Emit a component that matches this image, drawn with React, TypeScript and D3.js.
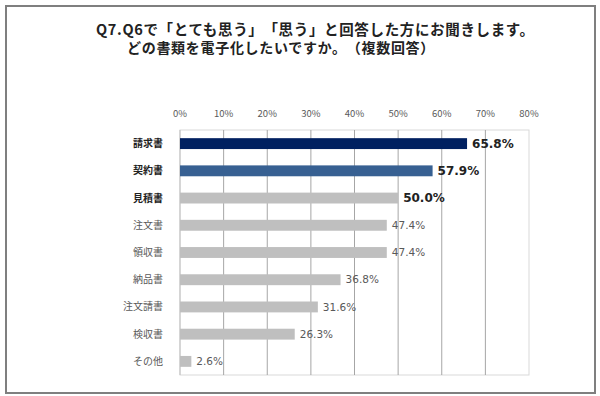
import React from "react";
import * as d3 from "d3";

const categories = ["請求書", "契約書", "見積書", "注文書", "領収書", "納品書", "注文請書", "検収書", "その他"];
const values = [65.8, 57.9, 50.0, 47.4, 47.4, 36.8, 31.6, 26.3, 2.6];
const barColors = ["#002060", "#376092", "#BFBFBF", "#BFBFBF", "#BFBFBF", "#BFBFBF", "#BFBFBF", "#BFBFBF", "#BFBFBF"];
const emphasized = [true, true, true, false, false, false, false, false, false];
const tickValues = [0, 10, 20, 30, 40, 50, 60, 70, 80];
const titleLines = ["Q7.Q6で「とても思う」「思う」と回答した方にお聞きします。", "どの書類を電子化したいですか。（複数回答）"];

const W = 600;
const H = 396;
const FONT = "'Noto Sans CJK JP', 'Noto Sans', sans-serif";

export default function App() {
  const left = 180;
  const right = 529;
  const top = 130;
  const bottom = 375;
  const x = d3.scaleLinear().domain([0, 80]).range([left, right]);
  const y = d3.scaleBand<string>().domain(categories).range([top, bottom]).paddingInner(0.6).paddingOuter(0.3);
  const titleStyle: any = { textSpacingTrim: "space-all" };

  return (
    <svg width={W} height={H} style={{ position: "absolute", left: 0, top: 0, background: "#fff" }} fontFamily={FONT}>
      <rect x={6} y={6} width={589} height={387} fill="#fff" stroke="#7f7f7f" strokeWidth={2} />
      <text x={96} y={35} fontSize={14.5} fontWeight="bold" fill="#222" letterSpacing={0.65} style={titleStyle}>{titleLines[0]}</text>
      <text x={127} y={53} fontSize={14} fontWeight="bold" fill="#222" letterSpacing={0.7} style={titleStyle}>{titleLines[1]}</text>

      <rect x={left} y={top} width={right - left} height={bottom - top} fill="none" stroke="#d9d9d9" strokeWidth={1} />
      {tickValues.map((t) => (
        <g key={t}>
          {t > 0 && t < 80 && (
            <line x1={x(t)} x2={x(t)} y1={top} y2={bottom} stroke="#a6a6a6" strokeWidth={1} />
          )}
          <text x={x(t)} y={117} fontSize={9.5} textAnchor="middle" fill="#595959">{`${t}%`}</text>
        </g>
      ))}
      <line x1={left} x2={left} y1={top} y2={bottom} stroke="#bfbfbf" strokeWidth={1} />

      {categories.map((c, i) => {
        const yy = y(c)!;
        const bh = y.bandwidth();
        const cy = yy + bh / 2;
        return (
          <g key={c}>
            <rect x={x(0)} y={yy} width={x(values[i]) - x(0)} height={bh} fill={barColors[i]} />
            <text
              x={163}
              y={cy}
              dy="0.35em"
              fontSize={10}
              textAnchor="end"
              fontWeight={emphasized[i] ? "bold" : "normal"}
              fill={emphasized[i] ? "#222" : "#595959"}
            >
              {c}
            </text>
            <text
              x={x(values[i]) + 5}
              y={cy}
              dy="0.35em"
              fontSize={emphasized[i] ? 12 : 10.5}
              fontWeight={emphasized[i] ? "bold" : "normal"}
              fill={emphasized[i] ? "#222" : "#595959"}
              fontFamily="'DejaVu Sans', sans-serif"
            >
              {`${values[i].toFixed(1)}%`}
            </text>
          </g>
        );
      })}
    </svg>
  );
}
